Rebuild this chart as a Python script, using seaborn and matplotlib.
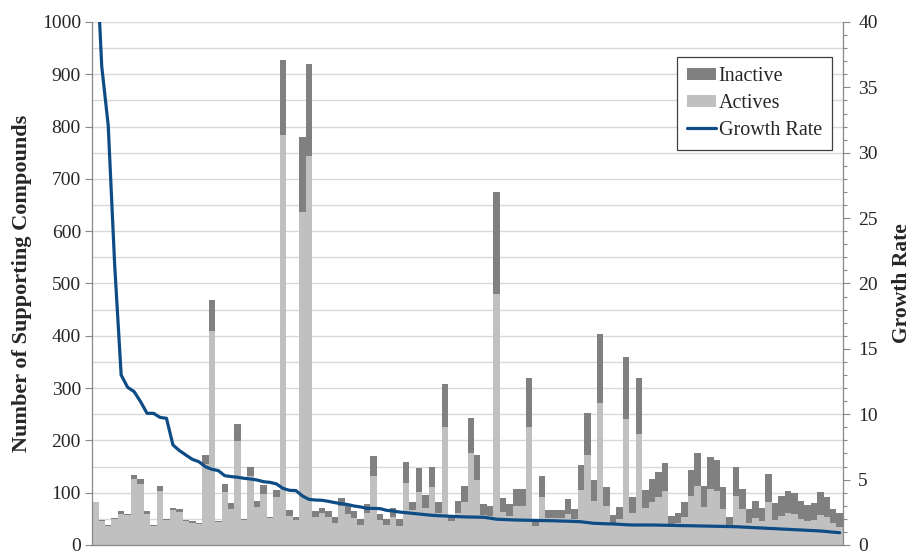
import matplotlib
matplotlib.use("Agg")
import matplotlib.pyplot as plt
from matplotlib.patches import Patch
from matplotlib.lines import Line2D
from matplotlib.ticker import MultipleLocator
import numpy as np
import seaborn as sns

# compounds per target
actives = [
    82, 45, 37, 49, 60, 57, 126, 117, 60, 37, 104, 47, 67, 64, 45, 43, 41, 155, 410, 44,
    102, 69, 199, 47, 132, 72, 97, 51, 91, 784, 56, 48, 637, 744, 53, 62, 53, 43, 74, 59,
    51, 39, 62, 131, 48, 38, 53, 37, 119, 66, 102, 71, 111, 62, 225, 45, 62, 83, 176, 124,
    57, 56, 479, 64, 56, 75, 75, 225, 37, 92, 51, 51, 51, 60, 50, 105, 173, 85, 272, 74,
    40, 50, 241, 62, 212, 71, 83, 91, 103, 37, 43, 53, 93, 112, 72, 108, 103, 69, 38, 93,
    68, 42, 52, 45, 83, 48, 56, 62, 59, 50, 45, 47, 57, 53, 42, 34,
]
inactive = [
    0, 2, 2, 2, 5, 3, 8, 9, 5, 2, 9, 3, 4, 4, 2, 2, 2, 18, 58, 2,
    15, 11, 32, 3, 18, 13, 18, 3, 15, 143, 10, 5, 144, 175, 12, 9, 12, 10, 16, 16,
    14, 11, 16, 39, 11, 12, 17, 13, 40, 17, 45, 25, 39, 21, 83, 11, 22, 30, 67, 49,
    22, 19, 196, 26, 22, 33, 32, 95, 13, 40, 15, 15, 15, 28, 18, 47, 79, 39, 131, 36,
    17, 22, 118, 29, 108, 34, 43, 49, 54, 18, 19, 30, 51, 64, 40, 61, 60, 42, 15, 57,
    40, 26, 33, 26, 53, 32, 38, 42, 40, 35, 31, 33, 44, 38, 27, 28,
]
growth = [
    47.0, 36.6, 32.1, 21.4, 13.0, 12.06, 11.73, 10.96, 10.07, 10.07,
    9.76, 9.69, 7.65, 7.22, 6.88, 6.55, 6.37, 5.99, 5.79, 5.69,
    5.30, 5.23, 5.18, 5.10, 5.05, 4.97, 4.84, 4.79, 4.67, 4.33,
    4.18, 4.16, 3.75, 3.49, 3.44, 3.42, 3.34, 3.24, 3.16, 3.09,
    2.98, 2.91, 2.80, 2.80, 2.78, 2.65, 2.60, 2.52, 2.47, 2.42,
    2.37, 2.32, 2.27, 2.24, 2.22, 2.19, 2.17, 2.15, 2.14, 2.13,
    2.12, 2.05, 1.97, 1.95, 1.93, 1.91, 1.90, 1.89, 1.88, 1.87,
    1.86, 1.85, 1.83, 1.82, 1.80, 1.78, 1.72, 1.66, 1.64, 1.62,
    1.61, 1.58, 1.55, 1.53, 1.53, 1.53, 1.53, 1.52, 1.51, 1.50,
    1.49, 1.48, 1.47, 1.46, 1.45, 1.44, 1.43, 1.42, 1.41, 1.40,
    1.37, 1.35, 1.32, 1.30, 1.27, 1.25, 1.22, 1.20, 1.17, 1.15,
    1.12, 1.10, 1.07, 1.03, 0.98, 0.94,
]

LIGHT = '#C0C0C0'
DARK = '#808080'
BLUE = '#0E4C86'
AXIS = '#888888'

sns.set_style('white')
plt.rcParams['font.family'] = ['Liberation Serif', 'DejaVu Serif']

idx = np.arange(len(actives))
total = np.array(actives) + np.array(inactive)

fig = plt.figure(figsize=(9.13, 5.51), dpi=100)
ax = fig.add_axes([0.1008, 0.0109, 0.8225, 0.9492])

# stacked bars: full height in dark, actives drawn over it in light
sns.barplot(x=idx, y=total, color=DARK, width=1.0, saturation=1, linewidth=0, ax=ax)
sns.barplot(x=idx, y=actives, color=LIGHT, width=1.0, saturation=1, linewidth=0, ax=ax)

ax.set_xlim(-0.5, len(actives) - 0.5)
ax.set_ylim(0, 1000)
ax.yaxis.set_major_locator(MultipleLocator(100))
ax.yaxis.set_minor_locator(MultipleLocator(50))
ax.set_xticks([])
ax.set_xlabel('')
ax.grid(axis='y', which='both', color='#D9D9D9', lw=1.0)
ax.set_axisbelow(True)
ax.tick_params(axis='y', which='major', direction='out', length=5, width=0.8,
               color=AXIS, labelsize=14, pad=3, left=True)
ax.tick_params(axis='y', which='minor', length=0)
ax.set_ylabel('Number of Supporting Compounds', fontsize=16, fontweight='bold', labelpad=7)
for s in ['left', 'bottom']:
    ax.spines[s].set_color(AXIS)
    ax.spines[s].set_linewidth(0.9)
ax.spines['top'].set_visible(False)
ax.spines['right'].set_visible(False)

ax2 = ax.twinx()
sns.lineplot(x=idx, y=growth, color=BLUE, lw=2.3, ax=ax2)
ax2.set_ylim(0, 40)
ax2.yaxis.set_major_locator(MultipleLocator(5))
ax2.yaxis.set_minor_locator(MultipleLocator(1))
ax2.tick_params(axis='y', which='major', direction='out', length=5, width=0.8,
                color=AXIS, labelsize=14, pad=6, right=True)
ax2.tick_params(axis='y', which='minor', direction='out', length=3, width=0.8,
                color=AXIS, right=True)
ax2.set_ylabel('Growth Rate', fontsize=15.5, fontweight='bold', labelpad=10)
ax2.spines['right'].set_color(AXIS)
ax2.spines['right'].set_linewidth(0.9)
for s in ['top', 'left', 'bottom']:
    ax2.spines[s].set_visible(False)

handles = [
    Patch(facecolor=DARK, edgecolor='none', label='Inactive'),
    Patch(facecolor=LIGHT, edgecolor='none', label='Actives'),
    Line2D([0], [0], color=BLUE, lw=2.3, label='Growth Rate'),
]
leg = ax2.legend(handles=handles, loc='upper right', bbox_to_anchor=(0.9854, 0.933),
                 fontsize=14.5, frameon=True, fancybox=False, framealpha=1,
                 edgecolor='#404040', handlelength=1.4, handleheight=0.6,
                 handletextpad=0.15, borderpad=0.5, labelspacing=0.4, borderaxespad=0)
leg.get_frame().set_linewidth(0.9)

fig.savefig('out.png', dpi=100)
